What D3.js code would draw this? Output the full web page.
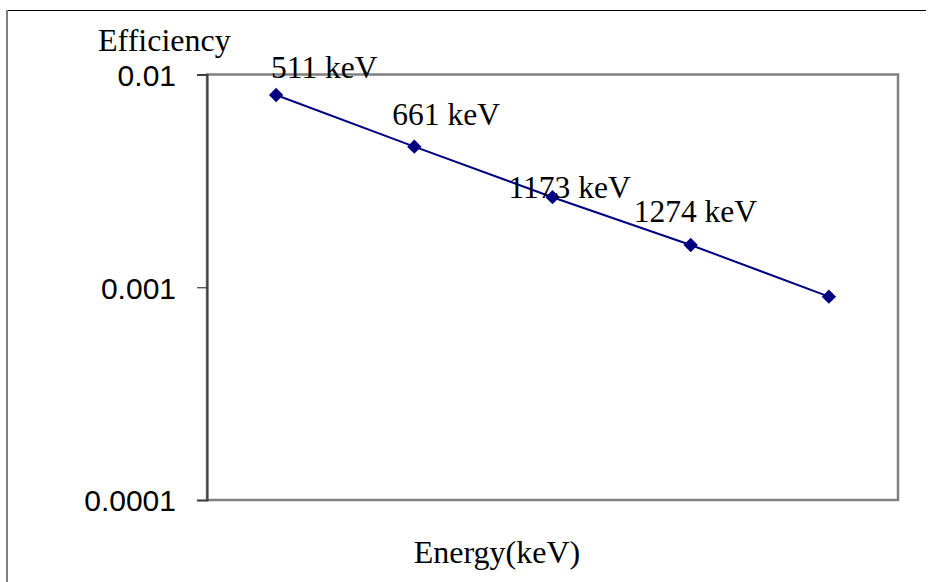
<!DOCTYPE html>
<html>
<head>
<meta charset="utf-8">
<script src="https://cdn.jsdelivr.net/npm/d3@7"></script>
<style>
html,body{margin:0;padding:0;background:#fff;}
svg{display:block;}
</style>
</head>
<body>
<svg id="chart" width="932" height="582"></svg>
<script>
// Data
const categories = ["1", "2", "3", "4", "5"];
const efficiency = [0.00801, 0.00458, 0.00265, 0.00158, 0.000903];
const pointLabels = ["511 keV", "661 keV", "1173 keV", "1274 keV", ""];
const yTicks = [0.0001, 0.001, 0.01];
const yTickLabels = ["0.0001", "0.001", "0.01"];
const yTitle = "Efficiency";
const xTitle = "Energy(keV)";

// Layout (label offsets relative to their point, in px)
const labelDx = [-5, -22, -44, -57, 0];
const labelDy = [-17, -22, 1, -23, 0];

const svg = d3.select("#chart");
const plot = {left: 207, top: 74.5, right: 898, bottom: 500};

// outer frame
svg.append("line").attr("x1", 7).attr("x2", 926).attr("y1", 10.5).attr("y2", 10.5)
  .attr("stroke", "#000").attr("stroke-width", 1);
svg.append("line").attr("x1", 7).attr("x2", 7).attr("y1", 10).attr("y2", 582)
  .attr("stroke", "#808080").attr("stroke-width", 2);

const x = d3.scaleBand().domain(categories).range([plot.left, plot.right]);
const y = d3.scaleLog().domain([0.0001, 0.01]).range([plot.bottom, plot.top]);

// plot area border
svg.append("rect")
  .attr("x", plot.left).attr("y", plot.top)
  .attr("width", plot.right - plot.left).attr("height", plot.bottom - plot.top)
  .attr("fill", "none").attr("stroke", "#808080").attr("stroke-width", 2.5);

// y axis
const yAxis = d3.axisLeft(y).tickValues(yTicks)
  .tickFormat((d, i) => yTickLabels[i]).tickSize(10).tickPadding(21);
const gy = svg.append("g").attr("transform", `translate(${plot.left},0)`).call(yAxis);
gy.select(".domain").attr("stroke", "#404040").attr("stroke-width", 2);
gy.selectAll(".tick line").attr("stroke", "#404040").attr("stroke-width", 1.2);
gy.selectAll(".tick text")
  .attr("font-family", "'Liberation Sans', Arial, sans-serif")
  .attr("font-size", 30).attr("fill", "#000").attr("dy", "0.36em");

// line
const line = d3.line()
  .x((d, i) => x(categories[i]) + x.bandwidth() / 2)
  .y(d => y(d));
svg.append("path").datum(efficiency)
  .attr("d", line).attr("fill", "none")
  .attr("stroke", "#000080").attr("stroke-width", 2);

// markers
svg.selectAll(".pt").data(efficiency).enter().append("path")
  .attr("class", "pt")
  .attr("transform", (d, i) => `translate(${x(categories[i]) + x.bandwidth() / 2},${y(d)})`)
  .attr("d", d3.symbol().type(d3.symbolDiamond2).size(130))
  .attr("fill", "#000080");

// point labels
svg.selectAll(".lbl").data(pointLabels).enter().append("text")
  .attr("class", "lbl")
  .attr("x", (d, i) => x(categories[i]) + x.bandwidth() / 2 + labelDx[i])
  .attr("y", (d, i) => y(efficiency[i]) + labelDy[i])
  .attr("font-family", "'Liberation Serif', 'Times New Roman', serif")
  .attr("font-size", 31.5).attr("fill", "#000")
  .text(d => d);

// titles
svg.append("text").attr("x", 98).attr("y", 51)
  .attr("font-family", "'Liberation Serif', 'Times New Roman', serif")
  .attr("font-size", 32).attr("fill", "#000").text(yTitle);
svg.append("text").attr("x", 497).attr("y", 563).attr("text-anchor", "middle")
  .attr("font-family", "'Liberation Serif', 'Times New Roman', serif")
  .attr("font-size", 32).attr("fill", "#000").text(xTitle);
</script>
</body>
</html>
